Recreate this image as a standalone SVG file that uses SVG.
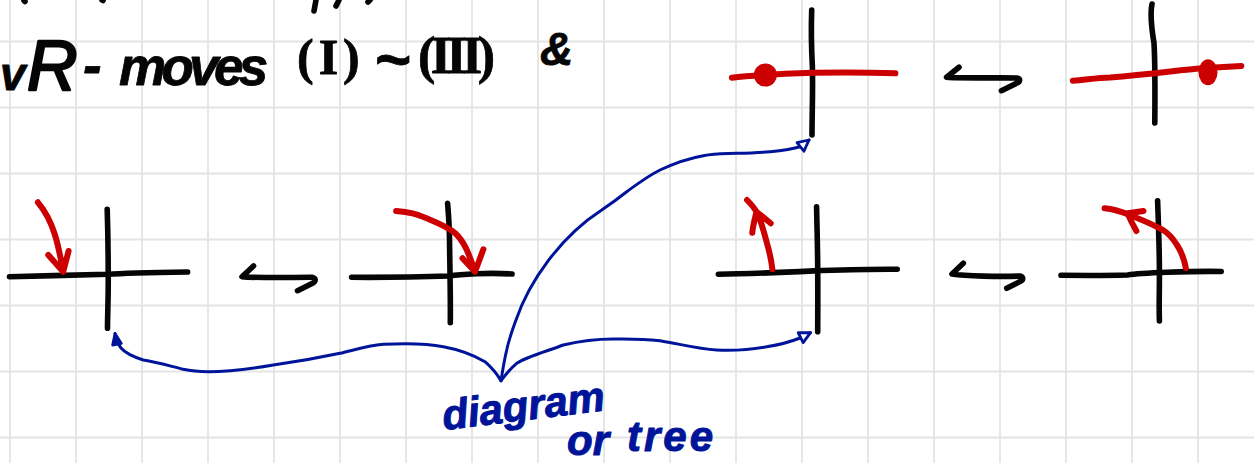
<svg xmlns="http://www.w3.org/2000/svg" width="1254" height="463" viewBox="0 0 1254 463">
<defs>
<style>
.grid{fill:none;stroke:#e4e4e4;stroke-width:1.8}
.k{fill:none;stroke:#050505;stroke-width:5.6;stroke-linecap:round;stroke-linejoin:round}
.r{fill:none;stroke:#cc0000;stroke-width:6;stroke-linecap:round;stroke-linejoin:round}
.dot{fill:#cc0000}
.c{fill:none;stroke:#00149a;stroke-width:3;stroke-linecap:round;stroke-linejoin:round}
.hw{font-family:"Liberation Sans",Arial,sans-serif;font-weight:bold;font-style:italic;stroke-linejoin:round}
.rn{font-family:"Liberation Serif","Times New Roman",serif;font-weight:bold;font-style:normal}
.ink{fill:#050505;stroke:#050505;stroke-width:.8}
.blue{fill:#00149a;stroke:#00149a;stroke-width:1}
</style>
<marker id="open" markerUnits="userSpaceOnUse" viewBox="-2 -8 16 16" refX="11" refY="0" markerWidth="16" markerHeight="16" orient="auto"><path d="M0-5.5L11 0L0 5.5Z" fill="#fff" stroke="#00149a" stroke-width="2.8" stroke-linejoin="round"/></marker>
<marker id="solid" markerUnits="userSpaceOnUse" viewBox="-2 -8 16 16" refX="11" refY="0" markerWidth="16" markerHeight="16" orient="auto"><path d="M0-4.5L11 0L0 4.5Z" fill="#00149a" stroke="#00149a" stroke-width="2.6" stroke-linejoin="round"/></marker>
</defs>
<rect width="1254" height="463" fill="#fff"/>
<path class="grid" d="M10 0V463M76 0V463M142 0V463M208 0V463M274 0V463M340 0V463M406 0V463M472 0V463M538 0V463M604 0V463M670 0V463M736 0V463M802 0V463M868 0V463M934 0V463M1000 0V463M1066 0V463M1132 0V463M1198 0V463M0 41.5H1254M0 107.5H1254M0 173.5H1254M0 239.5H1254M0 305.5H1254M0 371.5H1254M0 437.5H1254"/>

<g id="heading">
<path class="k" d="M24 0.5L25 1.5M102 0L103 0.5M316 0L314 11M339 0L336 6M370 0L368 2"/>
<text y="90" class="hw ink" font-size="50"><tspan x="0" font-size="46">v</tspan><tspan x="27" font-size="70" font-weight="normal" stroke-width="2.4">R</tspan> <tspan x="83" y="84" font-size="56">-</tspan> <tspan x="119" y="85" font-size="53" letter-spacing="-4.7">moves</tspan> <tspan x="297" y="74" class="rn" font-size="50" letter-spacing="5">(I)</tspan><tspan x="374" y="80" font-size="62" letter-spacing="0">~</tspan><tspan x="418" y="73" class="rn" font-size="52" letter-spacing="-4.6">(III)</tspan> <tspan x="540" y="65" font-size="46">&amp;</tspan></text>
</g>

<g id="move-1-right-a">
<path class="k" d="M811.7 10C811 30 811.5 50 812.4 67C813 90 812 115 812 135"/>
<path class="r" d="M731.8 77.7C745 76 775 74 813 72.7C850 72 875 72.5 895.4 73.3"/>
<ellipse class="dot" cx="765.4" cy="75" rx="11.5" ry="11.5"/>
</g>
<g id="move-1-right-b">
<path class="k" d="M1152 4C1150 14 1151 25 1154 43C1155 60 1155 100 1154.8 123"/>
<path class="r" d="M1072.8 80.7C1085 80 1095 78 1110 77.5C1150 74.5 1180 70 1201.8 68.3L1241.3 66"/>
<ellipse class="dot" cx="1208" cy="72.3" rx="9.5" ry="13"/>
</g>
<g id="swap-1"><path class="k" d="M959 67.3L946.6 77.3C960 78.5 1000 77.5 1017 78C1021 79 1020 82 1017 83L1001.4 90.7"/></g>

<g id="move-2-left-a">
<path class="k" d="M9.5 276.7C40 276 80 275 108 274.3C125 273 155 272.5 187.6 272"/>
<path class="k" d="M107.2 209.3C108 235 108.2 255 108.2 273.3C108.5 295 107.5 315 107.5 328.3"/>
<path class="r" d="M37.9 202.3C46 212 51 222 55 235C59 248 61 260 63.2 271.7M48.3 255L63.2 271.7L68.6 251"/>
</g>
<g id="move-2-left-b">
<path class="k" d="M351.6 277.3C380 277.5 420 277 449.6 276C460 274 490 272.5 512 274"/>
<path class="k" d="M447.6 203.3C449 220 449.6 235 449.6 246.7C450 275 450.6 300 450.3 322.7"/>
<path class="r" d="M396.2 211C410 212 416 214 426 218C438 223 448 227 455 233C466 243 470 258 475 271.7M462.5 258.3L475 271.7L483.4 249.3"/>
</g>
<g id="swap-2"><path class="k" d="M253.5 266L242 276.7C255 278 295 277.5 312 277.3C316 278 316 281 313 283L297.5 290.7"/></g>

<g id="move-3-right-a">
<path class="k" d="M718.4 274.3C750 274 790 272 816.6 270.7C840 270 870 269 897.2 269.3"/>
<path class="k" d="M816.6 206.7C817 230 817.7 250 817.7 270C818 295 817.7 315 817.7 331.7"/>
<path class="r" d="M772.4 269.3C771 258 769 250 767 243.3C764 232 761 222 758.3 215C755 208 751 204 747 200M752.3 232.7C753 225 755 218 756.5 211.7L770.7 223.3"/>
</g>
<g id="move-3-right-b">
<path class="k" d="M1061 275.3C1085 275.5 1110 275.5 1127.6 275C1140 273 1190 271 1221.2 271.5"/>
<path class="k" d="M1157.6 200.7C1158.5 225 1159.4 250 1159.4 270C1159.6 290 1158.8 305 1159.4 321"/>
<path class="r" d="M1185.9 268.3C1184 258 1181 251 1177 245C1172 237 1168 233 1162.9 230C1152 224 1140 219 1129.3 215C1120 211 1112 209 1104.6 208.3M1136.4 231C1133 225 1130 219 1127.6 213.3L1143.5 211"/>
</g>
<g id="swap-3"><path class="k" d="M963.3 263.3L952 274C965 276 1000 277 1020 276C1024 277 1023 280 1021 281L1006.7 288.3"/></g>

<g id="connectors">
<path class="c" marker-end="url(#open)" d="M501 380.7C503 368 505 357 506.7 350C509 339 512 331 516 320C529 282 560 237 601.7 210C612 203 620 197 626.7 191.7C640 182 648 176 660 170C675 163 690 158 703.3 155.7C715 153.5 725 153.8 736.7 153.3C748 153 760 152.5 770 151.7C780 150.8 793 149 801 146.5L809 140"/>
<path class="c" marker-end="url(#open)" d="M501 380.7C506 374 511 368 516.7 363.3C528 356 548 351 563.3 345C580 341 598 339 613.3 339C630 338.7 645 339 660 340.7C680 344 698 349 716.7 350C735 350.8 752 349.5 766.7 346.7C778 345 790 342 800 338L810.5 332.7"/>
<path class="c" marker-end="url(#solid)" d="M501 380.7C497 374 491 367 485 361.7C470 353 456 349 443.3 346.7C430 344 408 343 383.3 344.3C368 345.5 354 350 340 353.3C318 358 295 362 273.3 365C250 369 228 371.7 208.3 371.7C198 371.7 191 371 183.3 369.3C170 366 157 362 143.3 360C134 357 126 354 121 348C118 344 116 339 115 333.5"/>
</g>

<g id="label-diagram-or-tree">
<text class="hw blue" x="444" y="430" font-size="42" transform="rotate(-7 444 430)">diagram</text>
<text class="hw blue" font-size="42"><tspan x="567" y="455">or</tspan> <tspan x="627" y="451" letter-spacing="3">tree</tspan></text>
</g>
</svg>
